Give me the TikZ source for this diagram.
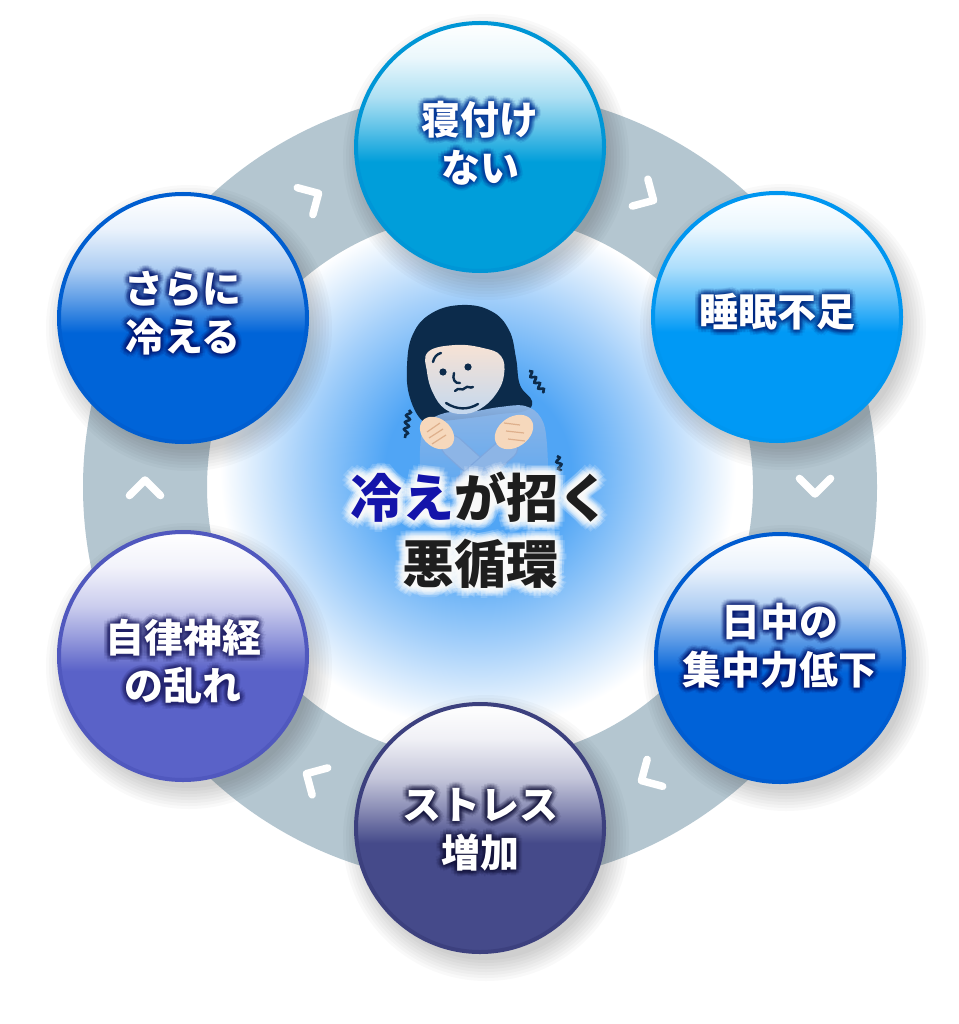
\documentclass[tikz,border=0pt]{standalone}
\usepackage{fontspec}
\newfontfamily\jp{Noto Sans CJK JP}
\usetikzlibrary{calc,fadings,decorations.pathmorphing}
\definecolor{c1}{RGB}{0,158,218}
\definecolor{c1b}{RGB}{0,150,214}
\definecolor{c2}{RGB}{0,153,245}
\definecolor{c2b}{RGB}{0,150,240}
\definecolor{c3}{RGB}{0,98,216}
\definecolor{c3b}{RGB}{0,92,208}
\definecolor{c4}{RGB}{69,74,138}
\definecolor{c4b}{RGB}{60,64,126}
\definecolor{c5}{RGB}{90,98,200}
\definecolor{c5b}{RGB}{80,88,190}
\definecolor{c6}{RGB}{0,100,216}
\definecolor{c6b}{RGB}{0,94,208}
\definecolor{g1}{RGB}{0,50,150}
\definecolor{g2}{RGB}{0,40,130}
\definecolor{g3}{RGB}{0,20,110}
\definecolor{g4}{RGB}{20,20,60}
\definecolor{g5}{RGB}{30,30,100}
\definecolor{ringc}{RGB}{180,198,208}
\definecolor{gA}{RGB}{80,165,245}
\definecolor{gB}{RGB}{165,208,250}
\definecolor{cblue}{RGB}{20,20,170}
\definecolor{cdark}{RGB}{30,30,30}
\definecolor{hair}{RGB}{12,43,75}
\definecolor{skin}{RGB}{247,226,212}
\definecolor{skinblue}{RGB}{196,216,238}
\definecolor{handc}{RGB}{246,216,188}
\definecolor{handl}{RGB}{222,176,140}
\definecolor{sweater}{RGB}{141,181,230}
\definecolor{sweaterl}{RGB}{126,167,222}
\colorlet{bcol}{c1}\colorlet{bA}{c1}\colorlet{bB}{c1}\colorlet{bC}{c1}
\pgfdeclareverticalshading[bcol,bA,bB,bC]{bubble}{100bp}{color(0bp)=(bcol); color(47bp)=(bcol); color(54bp)=(bA); color(60bp)=(bB); color(68bp)=(bC); color(75bp)=(white); color(100bp)=(white)}
\pgfdeclareradialshading{cglow}{\pgfpoint{0bp}{0bp}}{color(0bp)=(gA); color(9bp)=(gA); color(17bp)=(gB); color(25bp)=(white); color(50bp)=(white)}
\tikzfading[name=bodyfade, top color=transparent!0, middle color=transparent!0, bottom color=transparent!100]
\tikzset{
  bub/.style={circle, minimum size=248, line width=4, shade, shading=bubble, inner sep=0},
  lbl/.style={font=\jp\bfseries\fontsize{39}{48}\selectfont, align=center, inner sep=0},
  ctr/.style={font=\jp\bfseries\fontsize{52}{66}\selectfont, align=center, inner sep=0},
  ring/.style={draw=ringc, line width=124},
  chev/.style={draw=white, line width=7.5, line cap=round, line join=round},
  feat/.style={draw=hair, line width=2.4, line cap=round},
  shiver/.style={draw=hair, line width=2.6, decorate, decoration={snake, amplitude=2.2, segment length=7}},
}
\newcommand\bubblenode[5]{%
  \colorlet{bcol}{#4}\colorlet{bA}{#4!62!white}\colorlet{bB}{#4!32!white}\colorlet{bC}{#4!8!white}%
  \foreach \k in {0,...,7} {\fill[black, opacity=0.025] (#2+6,#3+10) circle ({122+3*\k});}
  \node[bub, draw=#5] (#1) at (#2,#3) {};
}
\newcommand\glowlbl[5]{%
  \foreach \a in {0,30,...,330}{\foreach \r in {1.5,3,4.5,6}{\node[lbl, text=#4, text opacity=0.09] at ([shift={(\a:\r)}]#2,#3) {#5};}}
  \node[lbl, text=white] (#1) at (#2,#3) {#5};
}
\begin{document}
\begin{tikzpicture}[x=1pt,y=-1pt]
\useasboundingbox (0,0) rectangle (958,1024);
\fill[white] (0,0) rectangle (958,1024);
\coordinate (C) at (480,487);
% central glow
\shade[shading=cglow] (478,470) circle (258);
% ring
\draw[ring] (C) circle (335);
% chevrons
\foreach \t in {-60,0,60,120,180,240}{
  \coordinate (V) at ($(C)+(\t:335)+(\t+90:7)$);
  \draw[chev] ($(V)+(\t+225:22)$) -- (V) -- ($(V)+(\t+315:22)$);
}
% circles
\bubblenode{n1}{480}{147}{c1}{c1b}
\bubblenode{n2}{777}{317}{c2}{c2b}
\bubblenode{n3}{780}{658}{c3}{c3b}
\bubblenode{n4}{480}{828}{c4}{c4b}
\bubblenode{n5}{183}{656}{c5}{c5b}
\bubblenode{n6}{183}{318}{c6}{c6b}
% labels
\glowlbl{t1}{480}{143}{g1}{寝付け\\ない}
\glowlbl{t2}{777}{312}{g2}{睡眠不足}
\glowlbl{t3}{780}{646}{g3}{日中の\\集中力低下}
\glowlbl{t4}{480}{830}{g4}{ストレス\\増加}
\glowlbl{t5}{183}{662}{g5}{自律神経\\の乱れ}
\glowlbl{t6}{183}{313}{g3}{さらに\\冷える}
% figure
\fill[hair] plot[smooth cycle, tension=0.7] coordinates {(424,422) (410,398) (407,366) (413,334) (432,313) (462,305) (491,311) (509,330) (516,358) (520,385) (532,401) (525,411) (500,414) (470,418) (442,421)};
\fill[sweater, path fading=bodyfade] plot[smooth, tension=0.6] coordinates {(421,515) (420,450) (426,424) (445,413) (470,412) (500,407) (525,406) (541,418) (547,445) (549,515)} -- cycle;
\shade[top color=skin, bottom color=skinblue] plot[smooth cycle, tension=0.7] coordinates {(428,352) (455,345) (483,348) (501,356) (504,375) (496,394) (480,409) (462,414) (445,409) (433,393) (427,372)};
\fill[hair] plot[smooth, tension=0.7] coordinates {(425,351) (440,346) (462,344) (484,346) (502,353) (506,343) (495,328) (470,320) (445,324) (430,336)} -- cycle;
\draw[feat] (446,403) .. controls (457,410) and (468,410) .. (478,404);
\fill[hair] (443,372) circle (3.6);
\fill[hair] (468,367) circle (3.6);
\draw[feat] (433,362) .. controls (434,357) and (437,354) .. (441,353);
\draw[feat] (454,373) .. controls (452,379) and (455,384) .. (460,383);
\draw[feat] (455,391) .. controls (459,386) and (462,392) .. (465,388) .. controls (468,385) and (470,389) .. (473,387);
% arms
\draw[sweaterl, line width=22.5, line cap=round] (452,446) -- (494,484);
\draw[sweater, line width=20, line cap=round] (452,446) -- (494,484);
\draw[sweaterl, line width=22.5, line cap=round] (507,448) -- (466,484);
\draw[sweater, line width=20, line cap=round] (507,448) -- (466,484);
% hands
\fill[handc] (437,433) ellipse [x radius=19, y radius=14, rotate=-40];
\draw[handl, line width=1.2] (427,432) -- (440,423) (429,438) -- (443,429) (432,444) -- (446,435);
\fill[handc] (514,432) ellipse [x radius=21, y radius=15, rotate=35];
\draw[handl, line width=1.2] (504,423) -- (520,425) (506,431) -- (524,433) (508,439) -- (525,441);
% shiver lines
\draw[shiver] (409,410) -- (405,438);
\draw[shiver] (529,371) -- (544,393);
\draw[shiver] (557,456) -- (561,471);
% central title
\foreach \a in {0,30,...,330}{\foreach \r in {2,4,6,8,10}{\node[ctr, text=white, text opacity=0.16] at ([shift={(\a:\r)}]480,530) {冷えが招く\\悪循環};}}
\node[ctr, text=cdark] (title) at (480,530) {{\color{cblue}冷え}が招く\\悪循環};
\end{tikzpicture}
\end{document}
